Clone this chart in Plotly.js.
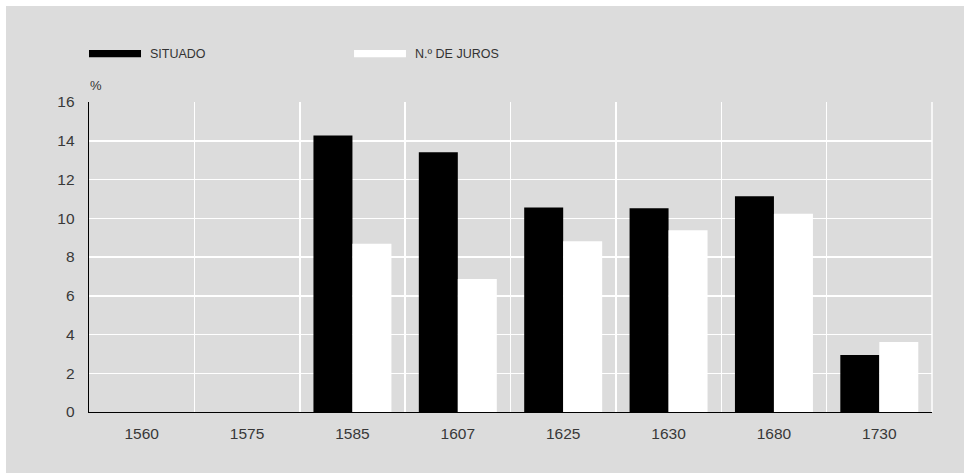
<!DOCTYPE html>
<html>
<head>
<meta charset="utf-8">
<script src="https://cdn.plot.ly/plotly-3.0.1.min.js"></script>
<style>
  html, body { margin: 0; padding: 0; background: #ffffff; }
  #chart { position: absolute; left: 6px; top: 6px; width: 958px; height: 467px; }
</style>
</head>
<body>
<div id="chart"></div>
<script>
// ---- data ----
const years = ["1560", "1575", "1585", "1607", "1625", "1630", "1680", "1730"];
const situado = [null, null, 14.27, 13.41, 10.56, 10.52, 11.14, 2.94];
const juros = [null, null, 8.69, 6.87, 8.81, 9.38, 10.23, 3.61];
const seriesNames = ["SITUADO", "N.º DE JUROS"];
const yTicks = [0, 2, 4, 6, 8, 10, 12, 14, 16];
const yUnit = "%";

const font = "'Liberation Sans', Arial, Helvetica, sans-serif";

const traces = [
  { type: "bar", x: years, y: situado, name: seriesNames[0],
    marker: { color: "#000000", line: { width: 0 } }, hoverinfo: "x+y" },
  { type: "bar", x: years, y: juros, name: seriesNames[1],
    marker: { color: "#ffffff", line: { width: 0 } }, hoverinfo: "x+y" }
];

const layout = {
  width: 958, height: 467,
  paper_bgcolor: "#dcdcdc", plot_bgcolor: "#dcdcdc",
  margin: { l: 83, r: 32, t: 95.5, b: 60.7 },
  showlegend: false,
  barmode: "group", bargap: 0.26, bargroupgap: 0,
  font: { family: font, size: 14, color: "#333333" },
  xaxis: {
    type: "category", categoryarray: years,
    tickson: "boundaries", ticks: "",
    showgrid: true, gridcolor: "#ffffff", gridwidth: 1.5,
    showline: true, linecolor: "#000000", linewidth: 1.3,
    tickfont: { family: font, size: 15.5, color: "#383838" },
    ticklabelstandoff: 7, zeroline: false, fixedrange: true
  },
  yaxis: {
    range: [0, 16], tickvals: yTicks, ticktext: yTicks.map(String),
    showgrid: true, gridcolor: "#ffffff", gridwidth: 1.5,
    showline: true, linecolor: "#000000", linewidth: 1.3,
    zeroline: false, ticks: "",
    tickfont: { family: font, size: 15.5, color: "#383838" },
    ticklabelstandoff: 10, fixedrange: true
  },
  shapes: [
    { type: "line", xref: "paper", yref: "paper", x0: 1, x1: 1, y0: 0, y1: 1,
      line: { color: "#ffffff", width: 1.5 }, layer: "below" },
    { type: "rect", xref: "paper", yref: "paper", x0: 0, x1: 0.0617, y0: 1.144, y1: 1.168,
      fillcolor: "#000000", line: { width: 0 } },
    { type: "rect", xref: "paper", yref: "paper", x0: 0.3144, x1: 0.3760, y0: 1.144, y1: 1.168,
      fillcolor: "#ffffff", line: { width: 0 } }
  ],
  annotations: [
    { xref: "paper", yref: "paper", x: 0.0700, y: 1.156, xanchor: "left", yanchor: "middle",
      text: seriesNames[0], showarrow: false, font: { family: font, size: 12.5, color: "#333333" } },
    { xref: "paper", yref: "paper", x: 0.3845, y: 1.156, xanchor: "left", yanchor: "middle",
      text: seriesNames[1], showarrow: false, font: { family: font, size: 12.5, color: "#333333" } },
    { xref: "paper", yref: "paper", x: -0.001, y: 1.053, xanchor: "left", yanchor: "middle",
      text: yUnit, showarrow: false, font: { family: font, size: 13, color: "#333333" } }
  ]
};

Plotly.newPlot("chart", traces, layout, { displayModeBar: false, staticPlot: true });
</script>
</body>
</html>
